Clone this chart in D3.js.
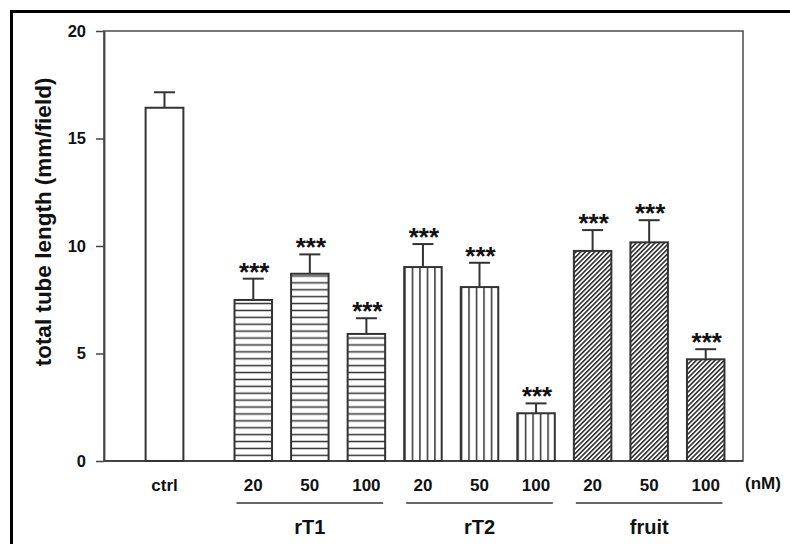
<!DOCTYPE html>
<html>
<head>
<meta charset="utf-8">
<script src="https://cdn.jsdelivr.net/npm/d3@7"></script>
<style>
  body { margin: 0; background: #fff; }
  svg { display: block; }
  text { font-family: "Liberation Sans", Arial, sans-serif; font-weight: bold; fill: #111; }
</style>
</head>
<body>
<div class="chart"></div>
<script>
// values
var ctrlLabel = "ctrl";
var ctrlMean = 16.43;
var ctrlErr = 0.72;

var groups = ["rT1", "rT2", "fruit"];
var doses = ["20", "50", "100"];
var rT1Means = [7.49, 8.71, 5.91];
var rT1Errs = [0.99, 0.90, 0.73];
var rT2Means = [9.02, 8.09, 2.22];
var rT2Errs = [1.07, 1.13, 0.46];
var fruitMeans = [9.77, 10.17, 4.73];
var fruitErrs = [0.97, 1.03, 0.47];
var yTicks = [0, 5, 10, 15, 20];
var unitLabel = "(nM)";
var yTitle = "total tube length (mm/field)";
var sigMark = "***";

var svgWidth = 790;
var svgHeight = 544;

var margin = { top: 31, right: 47, bottom: 83, left: 104 };
var height = svgHeight - margin.top - margin.bottom;
var width = svgWidth - margin.left - margin.right;

var svg = d3.select(".chart")
  .append("svg")
  .attr("width", svgWidth)
  .attr("height", svgHeight);

// outer figure frame
svg.append("rect")
  .attr("x", 11.5)
  .attr("y", 11.5)
  .attr("width", 800)
  .attr("height", 600)
  .attr("fill", "none")
  .attr("stroke", "#000")
  .attr("stroke-width", 3);

// fill patterns
var defs = svg.append("defs");

var horiz = defs.append("pattern")
  .attr("id", "horiz")
  .attr("patternUnits", "userSpaceOnUse")
  .attr("width", 10)
  .attr("height", 6.9);
horiz.append("rect").attr("width", 10).attr("height", 6.9).attr("fill", "#fff");
horiz.append("line")
  .attr("x1", 0).attr("x2", 10)
  .attr("y1", 3.45).attr("y2", 3.45)
  .attr("stroke", "#333")
  .attr("stroke-width", 1.5);

var vert = defs.append("pattern")
  .attr("id", "vert")
  .attr("patternUnits", "objectBoundingBox")
  .attr("width", 0.2)
  .attr("height", 1);
vert.append("rect").attr("width", 20).attr("height", 1000).attr("fill", "#fff");
vert.append("line")
  .attr("x1", 0.75).attr("x2", 0.75)
  .attr("y1", 0).attr("y2", 1000)
  .attr("stroke", "#333")
  .attr("stroke-width", 1.5);

var diag = defs.append("pattern")
  .attr("id", "diag")
  .attr("patternUnits", "userSpaceOnUse")
  .attr("width", 3.3)
  .attr("height", 10)
  .attr("patternTransform", "rotate(45)");
diag.append("rect").attr("width", 3.3).attr("height", 10).attr("fill", "#fff");
diag.append("line")
  .attr("x1", 1.6).attr("x2", 1.6)
  .attr("y1", 0).attr("y2", 10)
  .attr("stroke", "#222")
  .attr("stroke-width", 1.5);

var groupFills = { rT1: "url(#horiz)", rT2: "url(#vert)", fruit: "url(#diag)" };

// flatten treatment data
var allMeans = [rT1Means, rT2Means, fruitMeans];
var allErrs = [rT1Errs, rT2Errs, fruitErrs];
var treat = [];
groups.forEach(function(g, gi) {
  doses.forEach(function(dz, di) {
    treat.push({ key: g + "-" + dz, group: g, dose: dz, mean: allMeans[gi][di], err: allErrs[gi][di] });
  });
});

var chartGroup = svg.append("g")
  .attr("transform", `translate(${margin.left}, ${margin.top})`);

var yLinearScale = d3.scaleLinear()
  .domain([0, 20])
  .range([height, 0]);

var xTreat = d3.scaleBand()
  .domain(treat.map(d => d.key))
  .range([121, 630])
  .paddingInner(0.337)
  .paddingOuter(0.1685);

var xCtrl = d3.scaleBand()
  .domain([ctrlLabel])
  .range([32, 89])
  .paddingInner(0.337)
  .paddingOuter(0.1685);

// plot box
chartGroup.append("rect")
  .attr("width", width)
  .attr("height", height)
  .attr("fill", "none")
  .attr("stroke", "#555")
  .attr("stroke-width", 1.6);

// y axis
var leftAxis = d3.axisLeft(yLinearScale)
  .tickValues(yTicks)
  .tickSize(8)
  .tickSizeOuter(0)
  .tickPadding(10);

var yAxis = chartGroup.append("g").call(leftAxis);
yAxis.select(".domain").attr("stroke", "#444").attr("stroke-width", 1.8);
yAxis.selectAll(".tick line").attr("stroke", "#444").attr("stroke-width", 1.5);
yAxis.selectAll("text")
  .style("font-family", "'Liberation Sans', Arial, sans-serif")
  .style("font-weight", "bold")
  .style("font-size", "16.5px")
  .attr("fill", "#111");

// x axis line
chartGroup.append("line")
  .attr("x1", 0).attr("x2", width)
  .attr("y1", height).attr("y2", height)
  .attr("stroke", "#444")
  .attr("stroke-width", 1.8);

// y axis title
chartGroup.append("text")
  .attr("transform", "rotate(-90)")
  .attr("x", 0 - 191)
  .attr("y", 51 - margin.left)
  .style("text-anchor", "middle")
  .style("font-size", "22.5px")
  .text(yTitle);

// error bars drawn under the bars
function drawErr(sel, xs) {
  sel.append("line")
    .attr("x1", d => xs(d.key) + xs.bandwidth() / 2)
    .attr("x2", d => xs(d.key) + xs.bandwidth() / 2)
    .attr("y1", d => yLinearScale(d.mean))
    .attr("y2", d => yLinearScale(d.mean + d.err))
    .attr("stroke", "#333")
    .attr("stroke-width", 2);
  sel.append("line")
    .attr("x1", d => xs(d.key) + xs.bandwidth() / 2 - 10.5)
    .attr("x2", d => xs(d.key) + xs.bandwidth() / 2 + 10.5)
    .attr("y1", d => yLinearScale(d.mean + d.err))
    .attr("y2", d => yLinearScale(d.mean + d.err))
    .attr("stroke", "#333")
    .attr("stroke-width", 2);
}

var ctrlData = [{ key: ctrlLabel, mean: ctrlMean, err: ctrlErr }];

var ctrlG = chartGroup.selectAll(".ctrl")
  .data(ctrlData)
  .enter()
  .append("g")
  .attr("class", "ctrl");
drawErr(ctrlG, xCtrl);
ctrlG.append("rect")
  .attr("x", d => xCtrl(d.key))
  .attr("y", d => yLinearScale(d.mean))
  .attr("width", xCtrl.bandwidth())
  .attr("height", d => height - yLinearScale(d.mean))
  .attr("fill", "#fff")
  .attr("stroke", "#333")
  .attr("stroke-width", 2);

var barsG = chartGroup.selectAll(".treat")
  .data(treat)
  .enter()
  .append("g")
  .attr("class", "treat");
drawErr(barsG, xTreat);
barsG.append("rect")
  .attr("x", d => xTreat(d.key))
  .attr("y", d => yLinearScale(d.mean))
  .attr("width", xTreat.bandwidth())
  .attr("height", d => height - yLinearScale(d.mean))
  .attr("fill", d => groupFills[d.group])
  .attr("stroke", "#333")
  .attr("stroke-width", 2);

// significance stars
barsG.append("text")
  .attr("x", d => xTreat(d.key) + xTreat.bandwidth() / 2 + 1)
  .attr("y", d => yLinearScale(d.mean + d.err) + 2)
  .style("text-anchor", "middle")
  .style("font-size", "26px")
  .text(sigMark);

// x labels
chartGroup.append("text")
  .attr("x", xCtrl(ctrlLabel) + xCtrl.bandwidth() / 2)
  .attr("y", height + 30)
  .style("text-anchor", "middle")
  .style("font-size", "17px")
  .text(ctrlLabel);

barsG.append("text")
  .attr("x", d => xTreat(d.key) + xTreat.bandwidth() / 2)
  .attr("y", height + 30)
  .style("text-anchor", "middle")
  .style("font-size", "17px")
  .text(d => d.dose);

chartGroup.append("text")
  .attr("x", width + 20)
  .attr("y", height + 28)
  .style("text-anchor", "middle")
  .style("font-size", "17px")
  .text(unitLabel);

// group underlines and names
groups.forEach(function(g) {
  var first = xTreat(g + "-" + doses[0]);
  var last = xTreat(g + "-" + doses[doses.length - 1]) + xTreat.bandwidth();
  chartGroup.append("line")
    .attr("x1", first + 2)
    .attr("x2", last - 2)
    .attr("y1", height + 42)
    .attr("y2", height + 42)
    .attr("stroke", "#333")
    .attr("stroke-width", 1.6);
  chartGroup.append("text")
    .attr("x", (first + last) / 2)
    .attr("y", height + 73)
    .style("text-anchor", "middle")
    .style("font-size", "20px")
    .text(g);
});
</script>
</body>
</html>
